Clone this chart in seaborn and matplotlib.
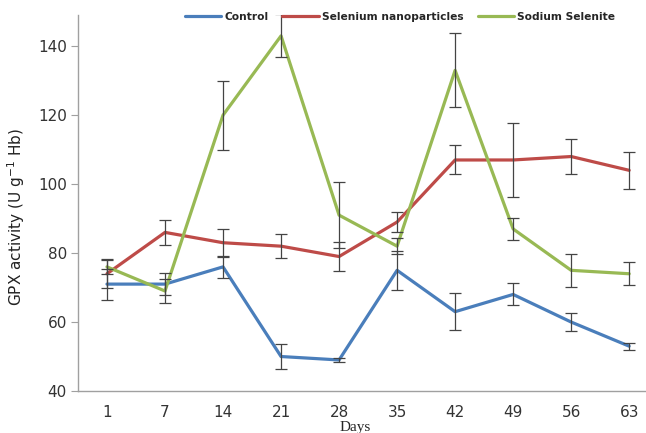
import matplotlib
matplotlib.use('Agg')
import matplotlib.pyplot as plt
import seaborn as sns
import numpy as np
import pandas as pd

days = ['1', '7', '14', '21', '28', '35', '42', '49', '56', '63']
control = [71, 71, 76, 50, 49, 75, 63, 68, 60, 53]
control_err = [4.5, 3.3, 3.1, 3.7, 0.5, 5.6, 5.4, 3.2, 2.6, 1.0]
nano = [74, 86, 83, 82, 79, 89, 107, 107, 108, 104]
nano_err = [4.2, 3.6, 4.0, 3.5, 4.1, 3.0, 4.2, 10.8, 5.0, 5.4]
selenite = [76, 69, 120, 143, 91, 82, 133, 87, 75, 74]
selenite_err = [2.0, 3.5, 10.0, 6.2, 9.6, 2.4, 10.7, 3.2, 4.8, 3.4]
groups = ['Control', 'Selenium nanoparticles', 'Sodium Selenite']
colors = ['#4a7ebb', '#be4b48', '#98b954']

pos = np.arange(len(days))
df = pd.DataFrame({
    'pos': np.tile(pos, 3),
    'val': control + nano + selenite,
    'err': control_err + nano_err + selenite_err,
    'group': np.repeat(groups, len(days)),
})

sns.set_style('white')
fig = plt.figure(figsize=(6.46, 4.33), dpi=100)
ax = fig.add_axes([0.1207, 0.097, 0.8793, 0.868])

sns.lineplot(data=df, x='pos', y='val', hue='group', palette=colors,
             linewidth=2.3, ax=ax, legend=True)
# error bars drawn over the lines, like excel
for g in groups:
    d = df[df.group == g]
    ax.errorbar(d.pos, d.val, yerr=d.err, fmt='none', ecolor='#444444',
                elinewidth=0.9, capsize=4, capthick=0.9, zorder=5)

ax.set_xlim(-0.5, 9.29)
ax.set_ylim(40, 149)
ax.set_yticks(range(40, 141, 20))
ax.set_xticks(pos)
ax.set_xticklabels(days)
ax.tick_params(axis='y', direction='out', length=5, color='#a0a0a0',
               labelsize=11, labelcolor='#333333', pad=3, left=True)
ax.tick_params(axis='x', length=0, labelsize=11, labelcolor='#333333', pad=10)
for s in ['top', 'right']:
    ax.spines[s].set_visible(False)
for s in ['left', 'bottom']:
    ax.spines[s].set_color('#a0a0a0')
    ax.spines[s].set_linewidth(1.0)

ax.set_xlabel('Days', family='Liberation Serif', fontsize=11)
ax.xaxis.set_label_coords(0.488, -0.079)
ax.set_ylabel('GPX activity (U g$^{-1}$ Hb)', fontsize=11, color='#222222')
ax.yaxis.set_label_coords(-0.09, 0.463)

leg = ax.legend(loc='center', bbox_to_anchor=(400 / 646, 1 - 17 / 433),
                bbox_transform=fig.transFigure, ncol=3, frameon=False,
                handlelength=3.4, handletextpad=0.3, columnspacing=1.3,
                prop={'weight': 'bold', 'size': 7.7})
for line in leg.get_lines():
    line.set_linewidth(2.3)

fig.savefig('out.png', dpi=100)
